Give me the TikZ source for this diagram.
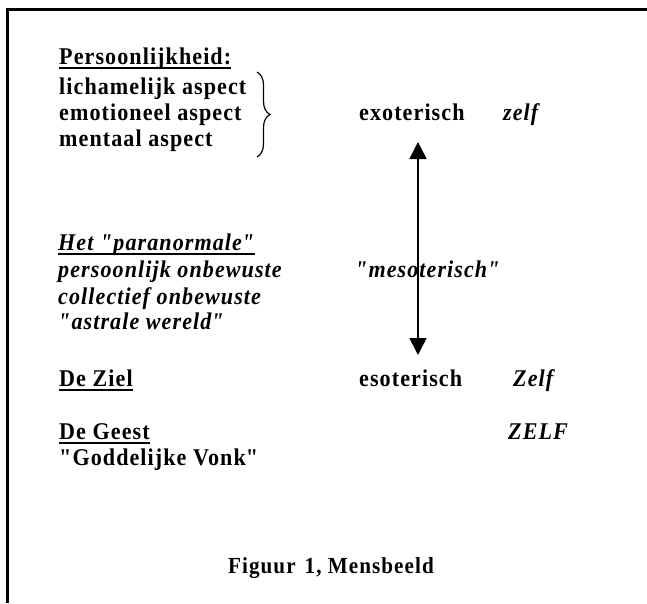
\documentclass[tikz,border=0pt]{standalone}
\usepackage{fontspec}
\setmainfont{Liberation Serif}[LetterSpace=4.5,FakeStretch=0.92]
\usetikzlibrary{decorations.pathreplacing,arrows.meta}
\newcommand{\dq}{\textquotedbl}
\begin{document}
\begin{tikzpicture}[x=1pt,y=-1pt,
  txt/.style={anchor=base west,inner sep=0pt,font=\fontsize{24}{26}\selectfont\bfseries},
  itx/.style={anchor=base west,inner sep=0pt,font=\fontsize{24}{26}\selectfont\bfseries\itshape},
  captxt/.style={anchor=base west,inner sep=0pt,font=\fontsize{23}{26}\selectfont\bfseries},
  uline/.style={line width=1.8pt},
  frameline/.style={line width=3pt},
  bracestyle/.style={line width=1.2pt,decorate,decoration={brace,amplitude=13pt}},
  arrowstyle/.style={line width=1.6pt,{Triangle[length=17pt,width=17pt]}-{Triangle[length=17pt,width=17pt]}}]
\useasboundingbox (0,0) rectangle (647,603);
% frame
\coordinate (fc) at (7.5,9.5);
\coordinate (fr) at (647,9.5);
\coordinate (fb) at (7.5,603);
\draw[frameline] (fr) -- (fc) -- (fb);
% left column
\node[txt] (pers) at (59,64) {Persoonlijkheid:};
\node[txt] (lich) at (59,94) {lichamelijk aspect};
\node[txt] (emo) at (59,120) {emotioneel aspect};
\node[txt] (ment) at (59,146) {mentaal aspect};
\node[itx] (het) at (58,250) {Het \dq paranormale\dq};
\node[itx] (pon) at (58,277) {persoonlijk onbewuste};
\node[itx] (col) at (58,304) {collectief onbewuste};
\node[itx] (ast) at (58,329) {\dq astrale wereld\dq};
\node[txt] (ziel) at (59,386) {De Ziel};
\node[txt] (geest) at (59,439) {De Geest};
\node[txt] (godd) at (59,465) {\dq Goddelijke Vonk\dq};
% middle column
\node[txt] (exo) at (359,120) {exoterisch};
\node[itx] (meso) at (355,277) {\dq mesoterisch\dq};
\node[txt] (eso) at (359,386) {esoterisch};
% right column
\node[itx] (zelf1) at (503,120) {zelf};
\node[itx] (zelf2) at (513,386) {Zelf};
\node[itx] (zelf3) at (508,439) {ZELF};
% caption
\node[captxt] (fig) at (228,573) {Figuur\hspace{9pt}1, Mensbeeld};
% underlines
\draw[uline] ([yshift=-4pt]pers.base west) -- ([yshift=-4pt]pers.base east);
\draw[uline] ([yshift=-4pt]het.base west) -- ([yshift=-4pt]het.base east);
\draw[uline] ([yshift=-4pt]ziel.base west) -- ([yshift=-4pt]ziel.base east);
\draw[uline] ([yshift=-4pt]geest.base west) -- ([yshift=-4pt]geest.base east);
% brace
\coordinate (bt) at (257,72);
\coordinate (bb) at (257,157);
\draw[bracestyle] (bt) -- (bb);
% arrow
\coordinate (atop) at (418,142);
\coordinate (abot) at (418,355);
\draw[arrowstyle] (atop) -- (abot);
\end{tikzpicture}
\end{document}
